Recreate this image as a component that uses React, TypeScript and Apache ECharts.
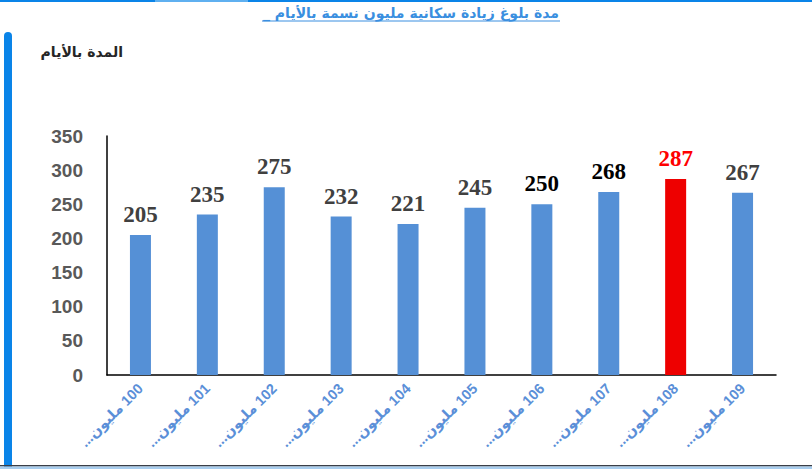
import React, { useEffect, useRef } from 'react';
import * as echarts from 'echarts';

const categories = [
  '100 مليون...',
  '101 مليون...',
  '102 مليون...',
  '103 مليون...',
  '104 مليون...',
  '105 مليون...',
  '106 مليون...',
  '107 مليون...',
  '108 مليون...',
  '109 مليون...',
];
const days = [205, 235, 275, 232, 221, 245, 250, 268, 287, 267];
const yTicks = [0, 50, 100, 150, 200, 250, 300, 350];

const titleText = 'مدة بلوغ زيادة سكانية مليون نسمة بالأيام _';
const unitText = 'المدة بالأيام';

// the highlighted bar and the label colours used in the original
const highlightIndex = 8;
const labelColors = ['#404040', '#404040', '#404040', '#404040', '#404040', '#404040', '#000000', '#000000', '#ff0000', '#404040'];

const BLUE = '#5590d6';
const RED = '#ee0000';
const RLM = '\u200F';

const App: React.FC = () => {
  const chartRef = useRef<HTMLDivElement>(null);

  useEffect(() => {
    document.body.style.margin = '0';
    if (!chartRef.current) return;
    const chart = echarts.init(chartRef.current, undefined, { renderer: 'svg' });

    const option: echarts.EChartsOption = {
      animation: false,
      backgroundColor: '#ffffff',
      grid: {
        left: 107,
        right: 36,
        top: 136,
        bottom: 94,
        containLabel: false,
      },
      xAxis: {
        type: 'category',
        data: categories.map((c) => RLM + c + RLM),
        axisLine: { show: true, lineStyle: { color: '#000000', width: 1.5 } },
        axisTick: { show: false },
        axisLabel: {
          rotate: 45,
          interval: 0,
          margin: 11,
          color: '#5b8fd8',
          fontSize: 14.5,
          fontWeight: 'bold',
          fontFamily: '"Liberation Sans", Arial, "DejaVu Sans", sans-serif',
        },
      },
      yAxis: {
        type: 'value',
        min: yTicks[0],
        max: yTicks[yTicks.length - 1],
        interval: yTicks[1] - yTicks[0],
        axisLine: { show: true, lineStyle: { color: '#000000', width: 1.5 } },
        axisTick: { show: false },
        splitLine: { show: false },
        axisLabel: {
          margin: 24,
          color: '#595959',
          fontSize: 19,
          fontWeight: 'bold',
          fontFamily: '"Liberation Sans", Arial, sans-serif',
        },
      },
      series: [
        {
          type: 'bar',
          barWidth: 21,
          data: days.map((v, i) => ({
            value: v,
            itemStyle: { color: i === highlightIndex ? RED : BLUE },
            label: { color: labelColors[i] },
          })),
          label: {
            show: true,
            position: 'top',
            distance: 9,
            fontSize: 23,
            fontWeight: 'bold',
            fontFamily: '"Liberation Serif", "Times New Roman", serif',
          },
        },
      ],
      graphic: [
        // top border
        { type: 'rect', left: 0, top: 0, shape: { width: 812, height: 2 }, style: { fill: '#0a84e8' } },
        { type: 'rect', left: 155, top: 0, shape: { width: 93, height: 2 }, style: { fill: '#5fb0f0' } },
        // left accent bar
        {
          type: 'rect',
          left: 4,
          top: 32,
          shape: { width: 8, height: 450, r: [4, 4, 0, 0] },
          style: { fill: '#0a84e8' },
        },
        // title
        {
          type: 'text',
          x: 411,
          y: 13,
          style: {
            text: RLM + titleText + RLM,
            fill: '#3a8fe0',
            font: 'bold 14px "DejaVu Sans", sans-serif',
            textAlign: 'center',
            textVerticalAlign: 'middle',
          },
        },
        {
          type: 'line',
          shape: { x1: 262, y1: 21, x2: 560, y2: 21 },
          style: { stroke: '#3a8fe0', lineWidth: 1 },
        },
        // unit label
        {
          type: 'text',
          x: 123,
          y: 52,
          style: {
            text: unitText,
            fill: '#262626',
            font: 'bold 14px "DejaVu Sans", sans-serif',
            textAlign: 'right',
            textVerticalAlign: 'middle',
          },
        },
        // bottom border
        { type: 'rect', left: 0, top: 465, shape: { width: 812, height: 1.5 }, style: { fill: '#3a3f47' } },
        { type: 'rect', left: 0, top: 466.5, shape: { width: 812, height: 3 }, style: { fill: '#a8cdee' } },
      ],
    };

    chart.setOption(option);

    return () => {
      chart.dispose();
    };
  }, []);

  return <div ref={chartRef} style={{ width: 812, height: 469 }} />;
};

export default App;
